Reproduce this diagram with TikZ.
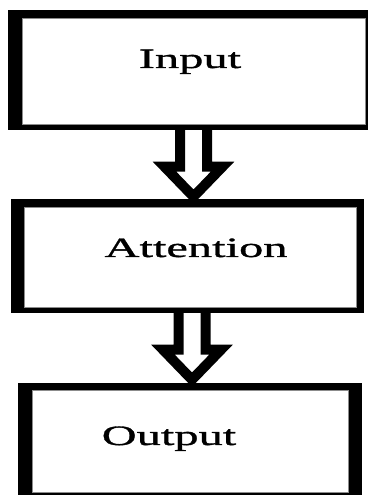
\documentclass[tikz,border=0pt]{standalone}
\usepackage{fontspec}
\setmainfont{Liberation Serif}
\newfontfamily\wideserif[FakeStretch=1.73, FakeBold=1.2]{Liberation Serif}
\usetikzlibrary{calc,backgrounds}
\tikzstyle{box}=[rectangle, fill=white, draw=black!45, line width=0.6pt, inner sep=0pt]
\tikzstyle{box_text}=[font=\wideserif\fontsize{28}{30}\selectfont, inner sep=0pt, anchor=base]
\tikzstyle{hollow_arrow}=[line width=10pt, fill=white, miter limit=10,
  to path={let \p1=(\tikztostart), \p2=(\tikztotarget) in
    (\x1-13.5pt,\y1) -- (\x1-13.5pt,\y2+40pt) -- (\x1-29pt,\y2+40pt) -- (\x1,\y2+10pt)
    -- (\x1+29pt,\y2+40pt) -- (\x1+13.5pt,\y2+40pt) -- (\x1+13.5pt,\y1)}]

\begin{document}
\begin{tikzpicture}[x=1pt, y=1pt]
    \useasboundingbox (0,0) rectangle (368,495);

    \fill (8,365) rectangle (368,485);
    \fill (11,182) rectangle (364,296);
    \fill (18,-10) rectangle (362,112);

    \node (in1) at (193.5,424) [box, minimum width=343pt, minimum height=106pt] {};
    \node (att) at (190,238) [box, minimum width=332pt, minimum height=100pt] {};
    \node (out) at (190,54) [box, minimum width=316pt, minimum height=102pt] {};

    \node (in1Text) at (190,427) [box_text] {Input};
    \node (attText) at (196,238) [box_text] {Attention};
    \node (outText) at (169,50) [box_text] {Output};

    \begin{scope}[on background layer]
    \draw[hollow_arrow] (in1.south) to (att.north);
    \draw[hollow_arrow] ([xshift=2pt]att.south) to (out.north);
    \end{scope}
  \end{tikzpicture}
\end{document}
